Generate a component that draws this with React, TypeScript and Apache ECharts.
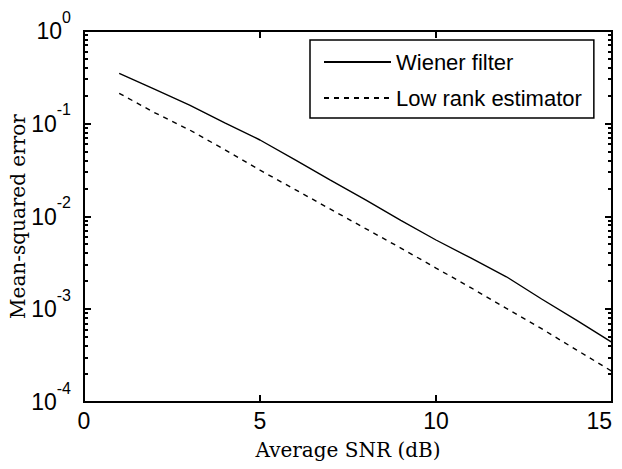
import React, { useEffect, useRef } from "react";
import * as echarts from "echarts";

const snr = [1, 2, 3, 4, 5, 6, 7, 8, 9, 10, 11, 12, 13, 14, 15];
const wiener = [0.35, 0.236, 0.159, 0.102, 0.0668, 0.0407, 0.0247, 0.0151, 0.0091, 0.00558, 0.00355, 0.00224, 0.00129, 0.00076, 0.00044];
const lowRank = [0.213, 0.132, 0.0857, 0.0525, 0.0316, 0.0195, 0.012, 0.0074, 0.00457, 0.00278, 0.0017, 0.00102, 0.000617, 0.000363, 0.000214];
const seriesNames = ["Wiener filter", "Low rank estimator"];
const xTickVals = [5, 10];
const yMajor = [1e-4, 1e-3, 1e-2, 1e-1, 1];
const yMinor: number[] = [];
for (let e = -4; e < 0; e++) {
  for (let k = 2; k <= 9; k++) yMinor.push(k * Math.pow(10, e));
}

const tickFont = "'Liberation Sans', Arial, sans-serif";
const serif = "'DejaVu Serif', serif";
const INK = "#000000";

function yTickSeries(vals: number[], len: number) {
  return {
    type: "custom",
    xAxisIndex: 0,
    yAxisIndex: 0,
    silent: true,
    clip: false,
    z: 5,
    data: vals.map((v) => [0, v]),
    renderItem: (_p: any, api: any) => {
      const v = api.value(1);
      const pl = api.coord([0, v]);
      const pr = api.coord([15, v]);
      const y = Math.round(pl[1]);
      return {
        type: "group",
        children: [
          { type: "line", shape: { x1: pl[0], y1: y, x2: pl[0] + len, y2: y }, style: { stroke: INK, lineWidth: 2 } },
          { type: "line", shape: { x1: pr[0] - len, y1: y, x2: pr[0], y2: y }, style: { stroke: INK, lineWidth: 2 } },
        ],
      };
    },
  };
}

export default function App() {
  const ref = useRef<HTMLDivElement>(null);
  useEffect(() => {
    if (!ref.current) return;
    const chart = echarts.init(ref.current, undefined, { renderer: "svg" });
    chart.setOption({
      animation: false,
      backgroundColor: "#ffffff",
      grid: {
        left: 84,
        top: 31,
        right: 10,
        bottom: 67,
        containLabel: false,
        outerBoundsMode: "none",
        show: true,
        borderColor: INK,
        borderWidth: 2,
        backgroundColor: "rgba(0,0,0,0)",
      },
      legend: {
        left: 310,
        top: 40,
        orient: "vertical",
        backgroundColor: "#ffffff",
        borderColor: INK,
        borderWidth: 1.5,
        borderRadius: 0,
        padding: [10, 12, 8, 13],
        itemGap: 12,
        itemWidth: 67,
        itemHeight: 14,
        itemStyle: { color: "rgba(0,0,0,0)", borderWidth: 0, opacity: 0 },
        textStyle: { fontFamily: "'Liberation Sans', Arial, sans-serif", fontSize: 22, color: "#000", lineHeight: 24 },
        data: seriesNames,
      },
      xAxis: [
        {
          type: "value",
          min: 0,
          max: 15,
          interval: 5,
          position: "bottom",
          name: "Average SNR (dB)",
          nameLocation: "middle",
          nameGap: 38,
          nameMoveOverlap: false,
          nameTextStyle: { fontFamily: serif, fontSize: 20, color: "#000" },
          axisLine: { show: true, onZero: false, lineStyle: { color: INK, width: 2 } },
          axisTick: { show: false },
          axisLabel: { margin: 7, fontFamily: tickFont, fontSize: 23, color: "#000", alignMaxLabel: "right" },
          splitLine: { show: false },
        },
      ],
      yAxis: [
        {
          type: "log",
          logBase: 10,
          min: 1e-4,
          max: 1,
          splitLine: { show: false },
          minorTick: { show: false },
          axisLine: { show: true, onZero: false, lineStyle: { color: INK, width: 2 } },
          axisTick: { show: false },
          position: "left",
          name: "Mean-squared error",
          nameLocation: "middle",
          nameGap: 56,
          nameMoveOverlap: false,
          nameTextStyle: { fontFamily: serif, fontSize: 20, color: "#000" },
          axisLabel: {
            margin: 13,
            formatter: (v: number) => `{b|10}{s|${Math.round(Math.log10(v))}}`,
            rich: {
              b: { fontFamily: tickFont, fontSize: 23, lineHeight: 23, color: "#000" },
              s: { fontFamily: tickFont, fontSize: 16, lineHeight: 16, color: "#000", padding: [0, 0, 28, 0] },
            },
          },
        },
      ],
      series: [
        {
          name: seriesNames[0],
          type: "line",
          xAxisIndex: 0,
          yAxisIndex: 0,
          symbol: "none",
          data: snr.map((x, i) => [x, wiener[i]]),
          lineStyle: { color: INK, width: 1.4, type: "solid" },
          itemStyle: { color: INK },
        },
        {
          name: seriesNames[1],
          type: "line",
          xAxisIndex: 0,
          yAxisIndex: 0,
          symbol: "none",
          data: snr.map((x, i) => [x, lowRank[i]]),
          lineStyle: { color: INK, width: 1.4, type: [5, 5] },
          itemStyle: { color: INK },
        },
        yTickSeries(yMajor, 7),
        yTickSeries(yMinor, 4),
        {
          type: "custom",
          xAxisIndex: 0,
          yAxisIndex: 0,
          silent: true,
          clip: false,
          z: 5,
          data: xTickVals.map((x) => [x, 1e-4]),
          renderItem: (_p: any, api: any) => {
            const xv = api.value(0);
            const pb = api.coord([xv, 1e-4]);
            const pt = api.coord([xv, 1]);
            const x = Math.round(pb[0]);
            return {
              type: "group",
              children: [
                { type: "line", shape: { x1: x, y1: pb[1], x2: x, y2: pb[1] - 7 }, style: { stroke: INK, lineWidth: 2 } },
                { type: "line", shape: { x1: x, y1: pt[1], x2: x, y2: pt[1] + 7 }, style: { stroke: INK, lineWidth: 2 } },
              ],
            };
          },
        },
      ],
    });
    return () => chart.dispose();
  }, []);
  return <div ref={ref} style={{ width: 622, height: 469, position: "absolute", left: 0, top: 0 }} />;
}
